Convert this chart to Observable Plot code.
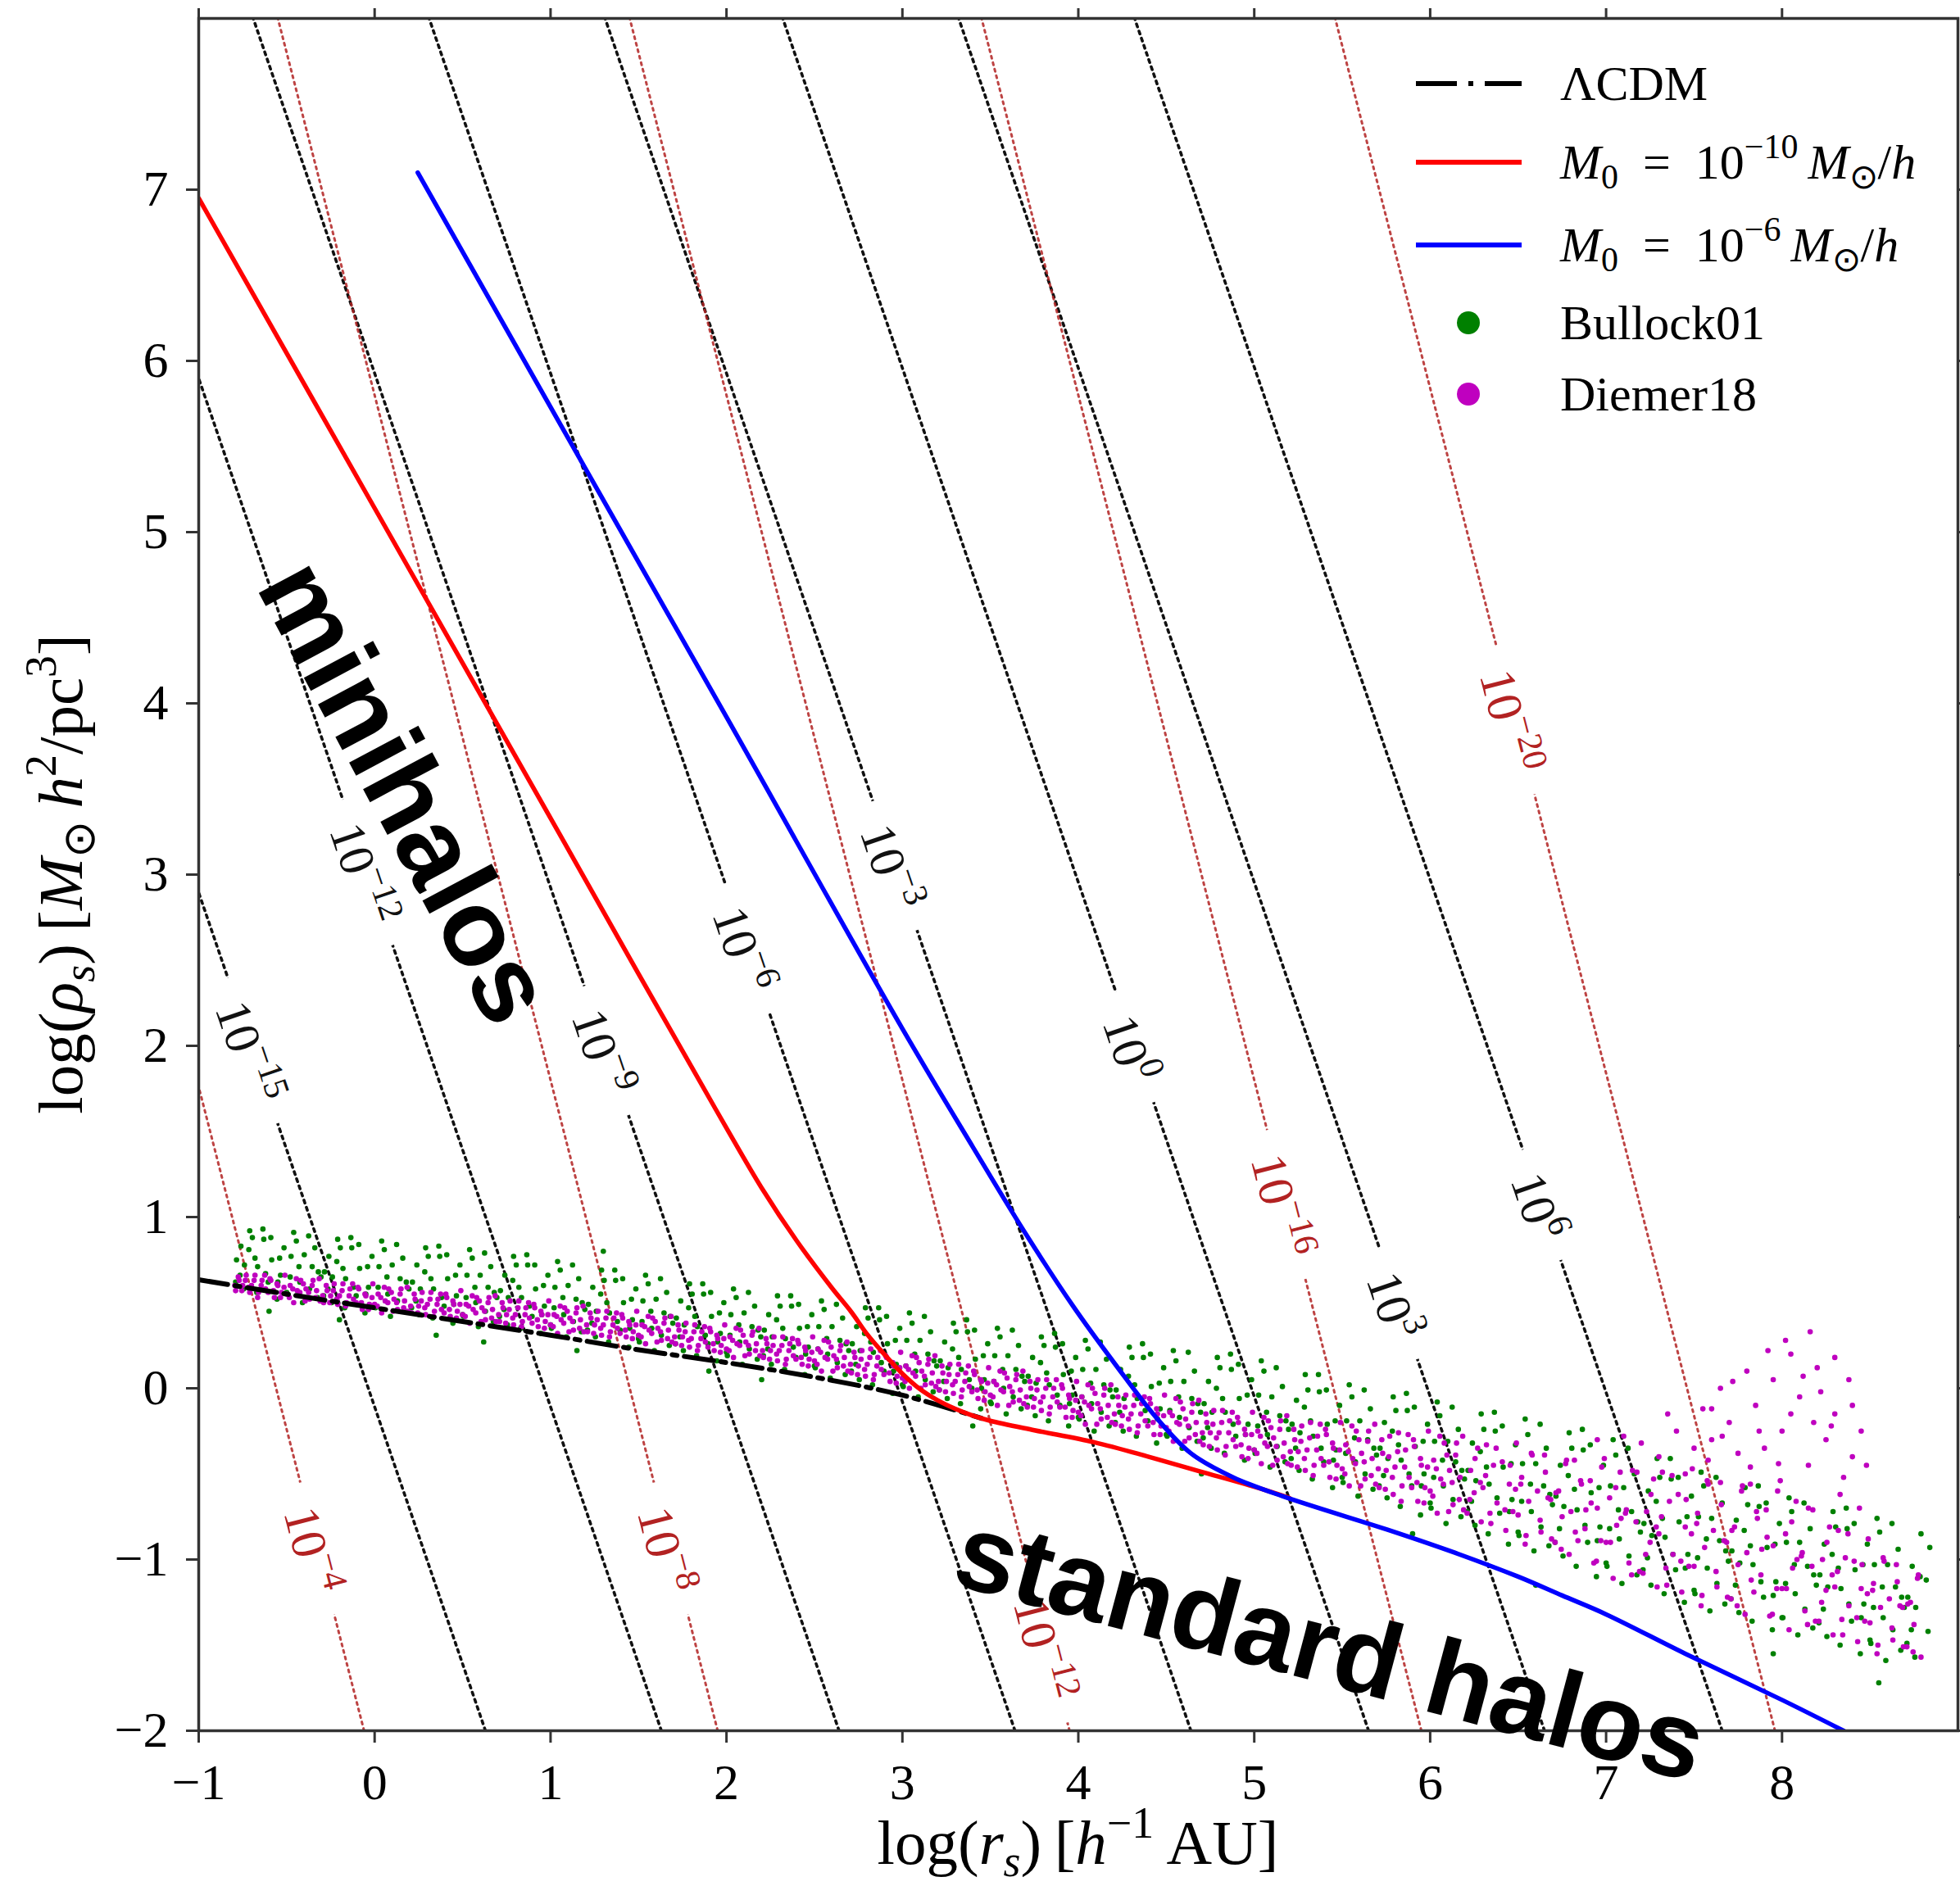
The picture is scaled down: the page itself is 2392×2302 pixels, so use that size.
<!DOCTYPE html>
<html><head><meta charset="utf-8">
<script src="https://cdn.jsdelivr.net/npm/d3@7"></script>
<script src="https://cdn.jsdelivr.net/npm/@observablehq/plot@0.6"></script>
<style>
html,body{margin:0;padding:0;background:#fff;}
#chart{width:2392px;height:2302px;overflow:hidden;}
</style></head><body><div id="chart"></div>
<script>
// ---------------- data ----------------
const X_DOMAIN = [-1, 9];
const Y_DOMAIN = [-2, 8];
const X_TICKS = [-1, 0, 1, 2, 3, 4, 5, 6, 7, 8];
const Y_TICKS = [-2, -1, 0, 1, 2, 3, 4, 5, 6, 7];

// iso-lines: x where each line crosses y = -2 (bottom) and y = 8 (top)
const LINE_Y_BOTTOM = -2, LINE_Y_TOP = 8;
const MASS_EXP = ["\u221215", "\u221212", "\u22129", "\u22126", "\u22123", "0", "3", "6"];
const MASS_X_BOTTOM = [0.63, 1.63, 2.64, 3.64, 4.64, 5.65, 6.65, 7.66];
const MASS_X_TOP = [-2.70, -1.70, -0.69, 0.31, 1.31, 2.32, 3.32, 4.32];
const MASS_LABEL_X = [-0.69, -0.04, 1.32, 2.12, 2.96, 4.32, 5.82, 6.64];
const MASS_LABEL_Y = [1.97, 3.01, 1.97, 2.57, 3.05, 1.99, 0.49, 1.07];

const RED_EXP = ["\u22124", "\u22128", "\u221212", "\u221216", "\u221220"];
const RED_X_BOTTOM = [-0.06, 1.95, 3.95, 5.95, 7.96];
const RED_X_TOP = [-2.56, -0.55, 1.45, 3.45, 5.46];
const RED_LABEL_X = [-0.33, 1.68, 3.83, 5.18, 6.48];
const RED_LABEL_Y = [-0.94, -0.94, -1.52, 1.07, 3.90];

// curves
const LCDM_X = [-1, -0.5, 0, 0.5, 1, 1.5, 2, 2.5, 3, 3.45];
const LCDM_Y = [0.634, 0.55, 0.47, 0.39, 0.31, 0.225, 0.15, 0.065, -0.04, -0.175];
const M10_X = [-1, 0, 1, 1.5, 1.8, 2.0, 2.2, 2.4, 2.6, 2.71, 2.8, 2.9, 3.0, 3.1, 3.2, 3.3, 3.4, 3.5, 3.75, 4.09, 4.4, 4.69, 5.0, 5.2];
const M10_Y = [6.95, 5.14, 3.33, 2.42, 1.88, 1.52, 1.17, 0.86, 0.585, 0.445, 0.315, 0.195, 0.085, -0.005, -0.07, -0.12, -0.16, -0.19, -0.245, -0.315, -0.40, -0.485, -0.575, -0.64];
const M6_X = [0.245, 1.0, 2.0, 3.0, 3.4, 3.69, 3.97, 4.21, 4.45, 4.64, 4.88, 5.16, 5.8, 6.14, 6.5, 6.75, 7.0, 7.45, 8.0, 8.35];
const M6_Y = [7.10, 5.73, 3.92, 2.10, 1.41, 0.92, 0.48, 0.14, -0.18, -0.38, -0.52, -0.63, -0.84, -0.96, -1.10, -1.21, -1.32, -1.55, -1.82, -2.0];

// scatter (pairs x,y)
const BULLOCK01 = [
-0.79,.62,-0.76,.83,-0.74,.72,-0.71,.92,-0.68,.76,-0.67,.56,-0.63,.87,-0.62,.67,-0.59,.88,-0.55,.62,-0.54,.76,-0.50,.56,
-0.48,.65,-0.46,.91,-0.43,.71,-0.41,.50,-0.40,.78,-0.37,.58,-0.34,.82,-0.32,.68,-0.29,.54,-0.26,.77,-0.24,.65,-0.21,.87,
-0.18,.70,-0.17,.47,-0.13,.82,-0.12,.59,-0.09,.84,-0.05,.55,-0.04,.71,0.00,.48,0.02,.59,0.04,.86,0.07,.65,0.09,.42,
0.10,.72,0.13,.51,0.16,.76,0.18,.62,0.21,.47,0.24,.72,0.26,.58,0.29,.82,0.32,.64,0.33,.41,0.37,.77,0.38,.53,
0.41,.78,0.45,.49,0.46,.66,0.50,.43,0.52,.53,0.54,.81,0.57,.59,0.59,.36,0.60,.66,0.63,.45,0.66,.71,0.68,.56,
0.71,.42,0.74,.66,0.76,.53,0.79,.77,0.82,.59,0.83,.35,0.87,.72,0.88,.48,0.91,.72,0.95,.43,0.96,.60,1.00,.37,
1.02,.47,1.04,.74,1.07,.53,1.09,.30,1.10,.60,1.13,.39,1.16,.64,1.18,.50,1.21,.34,1.24,.59,1.26,.45,1.29,.69,
1.32,.50,1.33,.27,1.37,.63,1.38,.39,1.41,.64,1.45,.35,1.46,.52,1.50,.29,1.52,.39,1.54,.66,1.57,.45,1.59,.22,
1.60,.52,1.63,.31,1.66,.56,1.68,.42,1.71,.26,1.74,.51,1.76,.37,1.79,.61,1.82,.42,1.83,.19,1.87,.55,1.88,.31,
1.91,.56,1.95,.27,1.96,.44,2.00,.21,2.02,.31,2.04,.58,2.07,.37,2.09,.14,2.10,.44,2.13,.23,2.16,.48,2.18,.34,
2.21,.19,2.24,.43,2.26,.30,2.29,.54,2.32,.35,2.33,.11,2.37,.48,2.38,.24,2.41,.49,2.45,.20,2.46,.36,2.50,.13,
2.52,.23,2.54,.51,2.57,.29,2.59,.06,2.60,.36,2.63,.15,2.66,.41,2.68,.26,2.71,.10,2.74,.36,2.76,.22,2.79,.47,
2.82,.27,2.83,.02,2.87,.40,2.88,.15,2.91,.42,2.95,.10,2.96,.28,3.00,.02,3.02,.13,3.04,.44,3.07,.20,3.09,-.05,
3.10,.28,3.13,.05,3.16,.33,3.18,.16,3.21,-.01,3.24,.27,3.26,.12,3.29,.38,3.32,.18,3.33,-.09,3.37,.33,3.38,.05,
3.41,.34,3.45,.00,3.46,.19,3.50,-.08,3.52,.04,3.54,.35,3.57,.11,3.59,-.15,3.60,.19,3.63,-.05,3.66,.25,3.68,.07,
3.71,-.10,3.74,.18,3.76,.03,3.79,.30,3.82,.09,3.83,-.19,3.87,.24,3.88,-.04,3.91,.26,3.95,-.09,3.96,.10,4.00,-.17,
4.02,-.05,4.04,.28,4.07,.03,4.09,-.25,4.10,.11,4.13,-.14,4.16,.17,4.18,-.01,4.21,-.20,4.24,.11,4.26,-.06,4.29,.24,
4.32,.02,4.33,-.28,4.37,.18,4.38,-.13,4.41,.20,4.45,-.18,4.46,.03,4.50,-.27,4.52,-.13,4.54,.22,4.57,-.05,4.59,-.35,
4.60,.04,4.63,-.23,4.66,.10,4.68,-.09,4.71,-.29,4.74,.04,4.76,-.14,4.79,.18,4.82,-.06,4.83,-.38,4.87,.11,4.88,-.21,
4.91,.14,4.95,-.27,4.96,-.04,5.00,-.36,5.02,-.22,5.04,.16,5.07,-.14,5.09,-.46,5.10,-.05,5.13,-.34,5.16,.01,5.18,-.19,
5.21,-.41,5.24,-.07,5.26,-.26,5.29,.08,5.32,-.19,5.33,-.53,5.37,-.02,5.38,-.35,5.41,-.01,5.45,-.42,5.46,-.19,5.50,-.52,
5.52,-.38,5.54,.02,5.57,-.29,5.59,-.63,5.60,-.19,5.63,-.50,5.66,-.12,5.68,-.35,5.71,-.57,5.74,-.20,5.76,-.41,5.79,-.05,
5.82,-.33,5.83,-.69,5.87,-.13,5.88,-.50,5.91,-.11,5.95,-.57,5.96,-.31,6.00,-.67,6.02,-.52,6.04,-.08,6.07,-.42,6.09,-.79,
6.10,-.31,6.13,-.65,6.16,-.24,6.18,-.48,6.21,-.72,6.24,-.32,6.26,-.54,6.29,-.15,6.32,-.46,6.33,-.85,6.37,-.25,6.38,-.64,
6.41,-.22,6.45,-.72,6.46,-.44,6.50,-.84,6.52,-.66,6.54,-.18,6.57,-.56,6.59,-.95,6.60,-.44,6.63,-.81,6.66,-.35,6.68,-.62,
6.71,-.90,6.74,-.45,6.76,-.69,6.79,-.26,6.82,-.59,6.83,-1.04,6.87,-.36,6.88,-.80,6.91,-.33,6.95,-.89,6.96,-.58,7.00,-1.02,
7.02,-.82,7.04,-.30,7.07,-.71,7.09,-1.14,7.10,-.58,7.13,-.98,7.16,-.50,7.18,-.78,7.21,-1.06,7.24,-.60,7.26,-.86,7.29,-.41,
7.32,-.76,7.33,-1.20,7.37,-.53,7.38,-.97,7.41,-.52,7.45,-1.05,7.46,-.75,7.50,-1.18,7.52,-.99,7.54,-.49,7.57,-.88,7.59,-1.30,
7.60,-.76,7.63,-1.14,7.66,-.67,7.68,-.95,7.71,-1.23,7.74,-.77,7.76,-1.02,7.79,-.58,7.82,-.92,7.83,-1.36,7.87,-.69,7.88,-1.13,
7.91,-.67,7.95,-1.21,7.96,-.91,8.00,-1.34,8.02,-1.14,8.04,-.64,8.07,-1.03,8.09,-1.44,8.10,-.90,8.13,-1.29,8.16,-.82,8.18,-1.09,
8.21,-1.37,8.24,-.91,8.26,-1.16,8.29,-.72,8.32,-1.05,8.33,-1.50,8.37,-.82,8.38,-1.26,8.41,-.79,8.45,-1.34,8.46,-1.03,8.50,-1.47,
8.52,-1.28,8.54,-.76,8.57,-1.16,8.59,-1.59,8.60,-1.03,8.63,-1.41,8.66,-.94,8.68,-1.22,8.71,-1.49,8.74,-1.04,8.76,-1.28,8.79,-.85,
8.82,-1.12,8.84,-.93,8.83,-1.42,0.35,.31,0.62,.27,1.15,.22,1.90,.10,4.70,-.50,5.90,-.85,6.60,-1.15,8.55,-1.72,7.95,-1.55,
-0.60,.45,-0.20,.40,1.30,.80,2.20,.05,3.40,-.22
];
const BULLOCK01_MORE = [
-0.785,.75,-0.765,.66,-0.745,.58,-0.715,.81,-0.695,.88,-0.665,.71,-0.635,.93,-0.605,.62,-0.585,.75,-0.555,.52,-0.535,.66,-0.515,.82,
-0.495,.55,-0.475,.77,-0.445,.86,-0.425,.62,-0.375,.89,-0.355,.71,-0.325,.53,-0.305,.65,-0.285,.68,-0.265,.58,-0.245,.50,-0.215,.74,
-0.195,.82,-0.165,.64,-0.135,.88,-0.105,.54,-0.085,.70,-0.055,.44,-0.035,.59,-0.015,.77,0.005,.47,0.025,.71,0.055,.81,0.075,.55,
0.125,.84,0.145,.64,0.175,.45,0.195,.58,0.215,.62,0.235,.51,0.255,.43,0.285,.68,0.305,.77,0.335,.58,0.365,.83,0.395,.48,
0.415,.64,0.445,.38,0.465,.54,0.485,.72,0.505,.42,0.525,.66,0.555,.76,0.575,.50,0.625,.79,0.645,.59,0.675,.39,0.695,.53,
0.715,.57,0.735,.46,0.755,.37,0.785,.63,0.805,.72,0.835,.53,0.865,.78,0.895,.42,0.915,.58,0.945,.32,0.965,.48,0.985,.66,
1.005,.35,1.025,.59,1.055,.69,1.075,.43,1.125,.72,1.145,.52,1.175,.33,1.195,.46,1.215,.49,1.235,.38,1.255,.30,1.285,.55,
1.305,.63,1.335,.44,1.365,.69,1.395,.34,1.415,.50,1.445,.24,1.465,.40,1.485,.58,1.505,.27,1.525,.51,1.555,.61,1.575,.35,
1.625,.64,1.645,.44,1.675,.25,1.695,.38,1.715,.41,1.735,.30,1.755,.22,1.785,.47,1.805,.55,1.835,.36,1.865,.61,1.895,.26,
1.915,.42,1.945,.16,1.965,.32,1.985,.50,2.005,.19,2.025,.43,2.055,.53,2.075,.27,2.125,.56,2.145,.36,2.175,.17,2.195,.30,
2.215,.34,2.235,.23,2.255,.14,2.285,.40,2.305,.48,2.335,.29,2.365,.54,2.395,.18,2.415,.35,2.445,.08,2.465,.24,2.485,.43,
2.505,.12,2.525,.36,2.555,.46,2.575,.20,2.625,.49,2.645,.28,2.675,.08,2.695,.22,2.715,.26,2.735,.14,2.755,.05,2.785,.32,
2.805,.41,2.835,.21,2.865,.47,2.895,.10,2.915,.26,2.945,-.03,2.965,.14,2.985,.35,3.005,.01,3.025,.28,3.055,.38,3.075,.10,
3.125,.42,3.145,.20,3.175,-.02,3.195,.13,3.215,.16,3.235,.04,3.255,-.06,3.285,.23,3.305,.33,3.335,.11,3.365,.40,3.395,.00,
3.415,.17,3.445,-.12,3.465,.05,3.485,.26,3.505,-.09,3.525,.19,3.555,.30,3.575,.00,3.625,.34,3.645,.11,3.675,-.12,3.695,.04,
3.715,.07,3.735,-.05,3.755,-.16,3.785,.15,3.805,.25,3.835,.02,3.865,.32,3.895,-.10,3.915,.08,3.945,-.22,3.965,-.04,3.985,.18,
4.005,-.18,4.025,.11,4.055,.23,4.075,-.09,4.125,.27,4.145,.02,4.175,-.22,4.195,-.05,4.215,-.01,4.235,-.14,4.255,-.25,4.285,.07,
4.305,.18,4.335,-.06,4.365,.26,4.395,-.19,4.415,.01,4.445,-.32,4.465,-.12,4.485,.12,4.505,-.28,4.525,.04,4.555,.16,4.575,-.17,
4.625,.21,4.645,-.06,4.675,-.31,4.695,-.14,4.715,-.09,4.735,-.23,4.755,-.35,4.785,.00,4.805,.12,4.835,-.14,4.865,.20,4.895,-.28,
4.915,-.06,4.945,-.42,4.965,-.21,4.985,.05,5.005,-.38,5.025,-.04,5.055,.10,5.075,-.27,5.125,.12,5.145,-.16,5.175,-.43,5.195,-.24,
5.215,-.21,5.235,-.35,5.255,-.48,5.285,-.11,5.305,-.01,5.335,-.28,5.365,.08,5.395,-.43,5.415,-.21,5.445,-.58,5.465,-.36,5.485,-.10,
5.505,-.55,5.525,-.19,5.555,-.05,5.575,-.43,5.625,-.01,5.645,-.30,5.675,-.59,5.695,-.39,5.715,-.35,5.735,-.51,5.755,-.64,5.785,-.25,
5.805,-.13,5.835,-.42,5.865,-.03,5.895,-.57,5.915,-.34,5.945,-.74,5.965,-.50,5.985,-.21,6.005,-.70,6.025,-.31,6.055,-.16,6.075,-.57,
6.125,-.11,6.145,-.43,6.175,-.75,6.195,-.53,6.215,-.48,6.235,-.66,6.255,-.80,6.285,-.37,6.305,-.24,6.335,-.56,6.365,-.14,6.395,-.73,
6.415,-.46,6.445,-.91,6.465,-.65,6.485,-.33,6.505,-.86,6.525,-.44,6.555,-.27,6.575,-.72,6.625,-.21,6.645,-.57,6.675,-.92,6.695,-.68,
6.715,-.63,6.735,-.82,6.755,-.98,6.785,-.51,6.805,-.35,6.835,-.71,6.865,-.24,6.895,-.90,6.915,-.61,6.945,-1.10,6.965,-.81,6.985,-.45,
7.005,-1.04,7.025,-.57,7.055,-.39,7.075,-.88,7.125,-.35,7.145,-.72,7.175,-1.09,7.195,-.84,7.215,-.79,7.235,-.99,7.255,-1.15,7.285,-.66,
7.305,-.52,7.335,-.87,7.365,-.41,7.395,-1.06,7.415,-.78,7.445,-1.25,7.465,-.97,7.485,-.63,7.505,-1.20,7.525,-.75,7.555,-.57,7.575,-1.05,
7.625,-.52,7.645,-.89,7.675,-1.26,7.695,-1.01,7.715,-.95,7.735,-1.15,7.755,-1.31,7.785,-.83,7.805,-.68,7.835,-1.03,7.865,-.57,7.895,-1.22,
7.915,-.93,7.945,-1.41,7.965,-1.13,7.985,-.79,8.005,-1.34,8.025,-.90,8.055,-.72,8.075,-1.20,8.125,-.67,8.145,-1.04,8.175,-1.40,8.195,-1.15,
8.215,-1.09,8.235,-1.29,8.255,-1.45,8.285,-.97,8.305,-.81,8.335,-1.17,8.365,-.70,8.395,-1.36,8.415,-1.06,8.445,-1.55,8.465,-1.26,8.485,-.91,
8.505,-1.49,8.525,-1.03,8.555,-.84,8.575,-1.34,8.625,-.79,8.645,-1.16,8.675,-1.53,8.695,-1.28,8.715,-1.22,8.735,-1.41,8.755,-1.57,8.785,-1.10
];
const DIEMER18 = [
-0.79,.57,-0.77,.63,-0.75,.60,-0.73,.66,-0.71,.56,-0.70,.60,-0.68,.66,-0.66,.56,-0.64,.63,-0.62,.58,
-0.59,.63,-0.57,.53,-0.55,.60,-0.53,.56,-0.51,.66,-0.50,.55,-0.48,.60,-0.46,.50,-0.44,.57,-0.42,.63,
-0.39,.58,-0.37,.52,-0.35,.63,-0.33,.57,-0.31,.51,-0.29,.50,-0.27,.57,-0.25,.54,-0.23,.61,-0.21,.49,
-0.20,.54,-0.18,.61,-0.16,.50,-0.14,.58,-0.12,.52,-0.09,.58,-0.07,.46,-0.05,.54,-0.03,.49,-0.01,.61,
0.00,.49,0.02,.55,0.04,.44,0.06,.51,0.08,.58,0.11,.52,0.13,.46,0.15,.58,0.17,.51,0.19,.45,
0.21,.44,0.23,.52,0.25,.48,0.27,.56,0.29,.43,0.30,.49,0.32,.56,0.34,.45,0.36,.52,0.38,.46,
0.41,.53,0.43,.42,0.45,.49,0.47,.45,0.49,.57,0.50,.43,0.52,.49,0.54,.38,0.56,.46,0.58,.53,
0.61,.47,0.63,.40,0.65,.53,0.67,.46,0.69,.39,0.71,.39,0.73,.47,0.75,.43,0.77,.51,0.79,.37,
0.80,.43,0.82,.51,0.84,.39,0.86,.47,0.88,.41,0.91,.47,0.93,.36,0.95,.43,0.97,.39,0.99,.51,
1.00,.37,1.02,.43,1.04,.32,1.06,.40,1.08,.47,1.11,.41,1.13,.34,1.15,.47,1.17,.40,1.19,.33,
1.21,.33,1.23,.41,1.25,.37,1.27,.45,1.29,.31,1.30,.37,1.32,.45,1.34,.33,1.36,.41,1.38,.35,
1.41,.41,1.43,.30,1.45,.37,1.47,.33,1.49,.45,1.50,.31,1.52,.37,1.54,.26,1.56,.34,1.58,.41,
1.61,.35,1.63,.28,1.65,.41,1.67,.34,1.69,.27,1.71,.26,1.73,.34,1.75,.30,1.77,.38,1.79,.24,
1.80,.29,1.82,.37,1.84,.25,1.86,.33,1.88,.27,1.91,.33,1.93,.22,1.95,.29,1.97,.25,1.99,.37,
2.00,.23,2.02,.30,2.04,.18,2.06,.26,2.08,.34,2.11,.27,2.13,.20,2.15,.33,2.17,.26,2.19,.19,
2.21,.18,2.23,.26,2.25,.22,2.27,.30,2.29,.16,2.30,.22,2.32,.30,2.34,.17,2.36,.26,2.38,.19,
2.41,.26,2.43,.14,2.45,.22,2.47,.17,2.49,.30,2.50,.16,2.52,.23,2.54,.10,2.56,.18,2.58,.27,
2.61,.19,2.63,.12,2.65,.25,2.67,.18,2.69,.10,2.71,.09,2.73,.18,2.75,.13,2.77,.22,2.79,.07,
2.80,.14,2.82,.23,2.84,.08,2.86,.18,2.88,.11,2.91,.18,2.93,.04,2.95,.13,2.97,.07,2.99,.21,
3.00,.06,3.02,.13,3.04,.00,3.06,.09,3.08,.18,3.11,.10,3.13,.02,3.15,.17,3.17,.09,3.19,.01,
3.21,-.01,3.23,.09,3.25,.04,3.27,.14,3.29,-.03,3.30,.04,3.32,.14,3.34,-.01,3.36,.09,3.38,.01,
3.41,.08,3.43,-.06,3.45,.04,3.47,-.02,3.49,.12,3.50,-.04,3.52,.04,3.54,-.10,3.56,-.01,3.58,.09,
3.61,.01,3.63,-.08,3.65,.08,3.67,-.01,3.69,-.09,3.71,-.11,3.73,.00,3.75,-.06,3.77,.05,3.79,-.13,
3.80,-.05,3.82,.05,3.84,-.11,3.86,.00,3.88,-.08,3.91,.00,3.93,-.17,3.95,-.06,3.97,-.13,3.99,.04,
4.00,-.14,4.02,-.05,4.04,-.21,4.06,-.10,4.08,.00,4.11,-.09,4.13,-.18,4.15,.00,4.17,-.10,4.19,-.20,
4.21,-.21,4.23,-.10,4.25,-.16,4.27,-.04,4.29,-.24,4.30,-.15,4.32,-.04,4.34,-.22,4.36,-.09,4.38,-.19,
4.41,-.09,4.43,-.27,4.45,-.15,4.47,-.22,4.49,-.04,4.50,-.23,4.52,-.14,4.54,-.31,4.56,-.20,4.58,-.08,
4.61,-.18,4.63,-.29,4.65,-.09,4.67,-.20,4.69,-.31,4.71,-.33,4.73,-.20,4.75,-.26,4.77,-.13,4.79,-.36,
4.80,-.26,4.82,-.13,4.84,-.34,4.86,-.19,4.88,-.30,4.91,-.20,4.93,-.40,4.95,-.27,4.97,-.35,4.99,-.14,
5.00,-.36,5.02,-.25,5.04,-.44,5.06,-.32,5.08,-.19,5.11,-.29,5.13,-.42,5.15,-.19,5.17,-.32,5.19,-.44,
5.21,-.45,5.23,-.30,5.25,-.37,5.27,-.22,5.29,-.48,5.30,-.36,5.32,-.20,5.34,-.45,5.36,-.28,5.38,-.41,
5.41,-.27,5.43,-.52,5.45,-.35,5.47,-.45,5.49,-.20,5.50,-.47,5.52,-.33,5.54,-.57,5.56,-.41,5.58,-.25,
5.61,-.38,5.63,-.53,5.65,-.25,5.67,-.41,5.69,-.56,5.71,-.58,5.73,-.38,5.75,-.48,5.77,-.28,5.79,-.62,
5.80,-.46,5.82,-.26,5.84,-.57,5.86,-.36,5.88,-.52,5.91,-.34,5.93,-.66,5.95,-.45,5.97,-.58,5.99,-.25,
6.00,-.60,6.02,-.42,6.04,-.73,6.06,-.53,6.08,-.32,6.11,-.48,6.13,-.68,6.15,-.32,6.17,-.52,6.19,-.71,
6.21,-.73,6.23,-.48,6.25,-.61,6.27,-.35,6.29,-.78,6.30,-.58,6.32,-.33,6.34,-.73,6.36,-.45,6.38,-.67,
6.41,-.43,6.43,-.83,6.45,-.56,6.47,-.72,6.49,-.32,6.50,-.74,6.52,-.52,6.54,-.91,6.56,-.66,6.58,-.39,
6.61,-.60,6.63,-.84,6.65,-.39,6.67,-.64,6.69,-.88,6.71,-.90,6.73,-.60,6.75,-.75,6.77,-.44,6.79,-.97,
6.80,-.72,6.82,-.42,6.84,-.89,6.86,-.56,6.88,-.82,6.91,-.54,6.93,-1.02,6.95,-.70,6.97,-.89,6.99,-.41,
7.00,-.90,7.02,-.64,7.04,-1.11,7.06,-.80,7.08,-.49,7.11,-.73,7.13,-1.02,7.15,-.48,7.17,-.78,7.19,-1.07,
7.21,-1.08,7.23,-.72,7.25,-.90,7.27,-.53,7.29,-1.16,7.30,-.85,7.32,-.49,7.34,-1.05,7.36,-.66,7.38,-.97,
7.41,-.62,7.43,-1.19,7.45,-.81,7.47,-1.04,7.49,-.47,7.50,-1.04,7.52,-.73,7.54,-1.27,7.56,-.93,7.58,-.56,
7.61,-.83,7.63,-1.16,7.65,-.55,7.67,-.89,7.69,-1.22,7.71,-1.23,7.73,-.81,7.75,-1.03,7.77,-.60,7.79,-1.32,
7.80,-.96,7.82,-.56,7.84,-1.19,7.86,-.76,7.88,-1.09,7.91,-.71,7.93,-1.33,7.95,-.92,7.97,-1.17,7.99,-.54,
8.00,-1.17,8.02,-.85,8.04,-1.41,8.06,-1.05,8.08,-.66,8.11,-.98,8.13,-1.30,8.15,-.70,8.17,-1.04,8.19,-1.36,
8.21,-1.36,8.23,-1.00,8.25,-1.18,8.27,-.81,8.29,-1.44,8.30,-1.16,8.32,-.83,8.34,-1.35,8.36,-.99,8.38,-1.27,
8.41,-1.01,8.43,-1.48,8.45,-1.17,8.47,-1.36,8.49,-.88,8.50,-1.37,8.52,-1.14,8.54,-1.55,8.56,-1.28,8.58,-1.01,
8.61,-1.23,8.63,-1.47,8.65,-1.03,8.67,-1.27,8.69,-1.51,8.71,-1.51,8.73,-1.25,8.75,-1.38,8.77,-1.11,8.79,-1.57,
8.16,.33,8.05,.20,8.20,.12,7.95,.05,8.10,-.05,7.85,-.10,8.30,-.15,7.70,-.20,8.00,-.25,8.25,-.30,7.60,-.30,7.50,-.35,
7.90,-.35,8.40,-.40,7.40,-.25,7.30,-.40,8.15,-.45,7.80,.10,8.40,-.10,8.45,-.25,7.65,.00,7.55,-.12,8.30,.18,8.22,-.02,
7.92,.22,7.75,-.38,8.35,-.52,7.45,-.50,7.35,-.15,8.05,-.15,8.48,-.45,7.20,-.32,7.98,-.44,8.12,.07,7.87,-.25,7.60,-.12,
8.02,.28,7.72,.04,8.28,-.22,7.10,-.28,6.95,-.30,8.38,.05,7.82,-.46,8.18,-.20,7.58,-.42,8.33,-.62,8.44,-.70,7.66,-.28
];
const DIEMER18_MORE = [
-0.795,.60,-0.775,.65,-0.755,.57,-0.735,.63,-0.715,.59,-0.685,.63,-0.665,.53,-0.645,.60,-0.625,.66,-0.605,.56,
-0.595,.64,-0.575,.57,-0.555,.61,-0.535,.53,-0.515,.59,-0.485,.53,-0.465,.58,-0.445,.64,-0.425,.56,-0.405,.61,
-0.395,.51,-0.375,.56,-0.355,.60,-0.335,.53,-0.315,.64,-0.295,.54,-0.275,.60,-0.255,.50,-0.235,.57,-0.215,.52,
-0.185,.57,-0.165,.48,-0.145,.54,-0.125,.61,-0.105,.50,-0.095,.59,-0.075,.50,-0.055,.55,-0.035,.46,-0.015,.53,
0.015,.48,0.035,.53,0.055,.59,0.075,.50,0.095,.56,0.105,.45,0.125,.50,0.145,.55,0.165,.47,0.185,.59,
0.205,.48,0.225,.55,0.245,.44,0.265,.51,0.285,.47,0.315,.52,0.335,.42,0.355,.49,0.375,.55,0.395,.44,
0.405,.55,0.425,.46,0.445,.51,0.465,.41,0.485,.49,0.515,.42,0.535,.48,0.555,.54,0.575,.44,0.595,.51,
0.605,.39,0.625,.45,0.645,.50,0.665,.41,0.685,.54,0.705,.43,0.725,.50,0.745,.38,0.765,.46,0.785,.41,
0.815,.47,0.835,.36,0.855,.43,0.875,.50,0.895,.38,0.905,.49,0.925,.40,0.945,.45,0.965,.35,0.985,.43,
1.015,.36,1.035,.42,1.055,.48,1.075,.38,1.095,.45,1.105,.33,1.125,.39,1.145,.44,1.165,.35,1.185,.48,
1.205,.37,1.225,.44,1.245,.32,1.265,.40,1.285,.35,1.315,.41,1.335,.30,1.355,.37,1.375,.44,1.395,.32,
1.405,.43,1.425,.34,1.445,.39,1.465,.29,1.485,.37,1.515,.30,1.535,.36,1.555,.42,1.575,.32,1.595,.39,
1.605,.27,1.625,.33,1.645,.38,1.665,.29,1.685,.42,1.705,.30,1.725,.37,1.745,.25,1.765,.33,1.785,.28,
1.815,.33,1.835,.22,1.855,.29,1.875,.36,1.895,.24,1.905,.35,1.925,.26,1.945,.31,1.965,.21,1.985,.29,
2.015,.22,2.035,.28,2.055,.35,2.075,.25,2.095,.31,2.105,.19,2.125,.25,2.145,.31,2.165,.22,2.185,.35,
2.205,.22,2.225,.29,2.245,.17,2.265,.25,2.285,.20,2.315,.25,2.335,.14,2.355,.22,2.375,.29,2.395,.17,
2.405,.28,2.425,.18,2.445,.24,2.465,.13,2.485,.21,2.515,.14,2.535,.21,2.555,.28,2.575,.17,2.595,.24,
2.605,.10,2.625,.17,2.645,.22,2.665,.13,2.685,.27,2.705,.14,2.725,.21,2.745,.08,2.765,.17,2.785,.11,
2.815,.18,2.835,.05,2.855,.13,2.875,.22,2.895,.08,2.905,.19,2.925,.09,2.945,.15,2.965,.03,2.985,.12,
3.015,.04,3.035,.11,3.055,.19,3.075,.07,3.095,.15,3.105,.00,3.125,.07,3.145,.14,3.165,.03,3.185,.19,
3.205,.04,3.225,.13,3.245,-.02,3.265,.08,3.285,.02,3.315,.08,3.335,-.05,3.355,.04,3.375,.13,3.395,-.02,
3.405,.10,3.425,-.01,3.445,.05,3.465,-.07,3.485,.03,3.515,-.05,3.535,.02,3.555,.10,3.575,-.02,3.595,.06,
3.605,-.10,3.625,-.02,3.645,.05,3.665,-.07,3.685,.10,3.705,-.05,3.725,.04,3.745,-.11,3.765,-.01,3.785,-.08,
3.815,.00,3.835,-.15,3.855,-.05,3.875,.05,3.895,-.11,3.905,.02,3.925,-.11,3.945,-.04,3.965,-.17,3.985,-.07,
4.015,-.16,4.035,-.08,4.055,.02,4.075,-.12,4.095,-.03,4.105,-.21,4.125,-.12,4.145,-.04,4.165,-.17,4.185,.02,
4.205,-.15,4.225,-.05,4.245,-.22,4.265,-.11,4.285,-.18,4.315,-.10,4.335,-.26,4.355,-.15,4.375,-.05,4.395,-.22,
4.405,-.06,4.425,-.20,4.445,-.12,4.465,-.27,4.485,-.16,4.515,-.25,4.535,-.16,4.555,-.06,4.575,-.21,4.595,-.12,
4.605,-.31,4.625,-.22,4.645,-.14,4.665,-.27,4.685,-.07,4.705,-.26,4.725,-.15,4.745,-.34,4.765,-.21,4.785,-.29,
4.815,-.20,4.835,-.39,4.855,-.26,4.875,-.14,4.895,-.34,4.905,-.17,4.925,-.33,4.945,-.24,4.965,-.41,4.985,-.27,
5.015,-.38,5.035,-.28,5.055,-.17,5.075,-.34,5.095,-.23,5.105,-.45,5.125,-.34,5.145,-.24,5.165,-.40,5.185,-.16,
5.205,-.37,5.225,-.24,5.245,-.46,5.265,-.31,5.285,-.41,5.315,-.29,5.335,-.51,5.355,-.36,5.375,-.21,5.395,-.45,
5.405,-.24,5.425,-.43,5.445,-.32,5.465,-.53,5.485,-.36,5.515,-.50,5.535,-.37,5.555,-.22,5.575,-.44,5.595,-.30,
5.605,-.57,5.625,-.43,5.645,-.31,5.665,-.51,5.685,-.21,5.705,-.47,5.725,-.30,5.745,-.59,5.765,-.40,5.785,-.52,
5.815,-.37,5.835,-.66,5.855,-.46,5.875,-.27,5.895,-.58,5.905,-.30,5.925,-.55,5.945,-.41,5.965,-.67,5.985,-.46,
6.015,-.63,6.035,-.47,6.055,-.28,6.075,-.56,6.095,-.39,6.105,-.72,6.125,-.55,6.145,-.39,6.165,-.65,6.185,-.28,
6.225,-.65,6.255,-.41,6.285,-.55,6.315,-.51,6.345,-.79,6.375,-.35,6.425,-.71,6.455,-.45,6.485,-.59,
6.515,-.56,6.545,-.86,6.575,-.38,6.625,-.77,6.655,-.49,6.685,-.65,6.715,-.61,6.745,-.94,6.775,-.42,
6.825,-.84,6.855,-.54,6.885,-.71,6.915,-.67,6.945,-1.01,6.975,-.46,7.025,-.90,7.055,-.58,7.085,-.76,
7.115,-.71,7.145,-1.09,7.175,-.49,7.225,-.97,7.255,-.62,7.285,-.81,7.315,-.75,7.345,-1.15,7.375,-.51,
7.425,-1.01,7.455,-.65,7.485,-.85,7.515,-.79,7.545,-1.21,7.575,-.54,7.625,-1.07,7.655,-.68,7.685,-.90,
7.715,-.83,7.745,-1.27,7.775,-.57,7.825,-1.12,7.855,-.72,7.885,-.94,7.915,-.87,7.945,-1.32,7.975,-.60,
8.025,-1.17,8.055,-.78,8.085,-1.00,8.115,-.96,8.145,-1.38,8.175,-.71,8.225,-1.25,8.255,-.90,8.285,-1.09,
8.315,-1.07,8.345,-1.44,8.375,-.85,8.425,-1.34,8.455,-1.03,8.485,-1.20,8.515,-1.18,8.545,-1.50,8.575,-.99,
8.625,-1.40,8.655,-1.13,8.685,-1.28,8.715,-1.26,8.745,-1.54,8.775,-1.09
];

const LEGEND_LABELS = ["\u039bCDM", "M0 = 10^-10 Msun/h", "M0 = 10^-6 Msun/h", "Bullock01", "Diemer18"];

// ---------------- build ----------------
const pairs = a => { const o = []; for (let i = 0; i < a.length; i += 2) o.push({x: a[i], y: a[i + 1]}); return o; };
const zip = (X, Y) => X.map((x, i) => ({x, y: Y[i]}));
const isoLines = (XB, XT) => XB.flatMap((xb, k) => [{x: xb, y: LINE_Y_BOTTOM, k}, {x: XT[k], y: LINE_Y_TOP, k}]);

const SERIF = "'Liberation Serif', 'Times New Roman', serif";
const TICK_FS = 62, CLABEL_FS = 61, LEGEND_FS = 60, AXIS_FS = 77, BIG_FS = 132;
const AXIS_COLOR = "#333";
const DOT_R = 3.3;

const plot = Plot.plot({
  width: 2392, height: 2302,
  marginLeft: 242, marginRight: 3, marginTop: 22, marginBottom: 190,
  x: {domain: X_DOMAIN},
  y: {domain: Y_DOMAIN},
  style: {fontFamily: SERIF, fontSize: TICK_FS + "px", background: "white", color: "black"},
  marks: [
    Plot.line(isoLines(MASS_X_BOTTOM, MASS_X_TOP), {x: "x", y: "y", z: "k", stroke: "#111", strokeWidth: 3.6, strokeDasharray: "3.6,5.6", clip: true}),
    Plot.line(isoLines(RED_X_BOTTOM, RED_X_TOP), {x: "x", y: "y", z: "k", stroke: "#b22222", strokeWidth: 3, strokeDasharray: "3,5.2", strokeOpacity: 0.85, clip: true}),
    Plot.dot(pairs(BULLOCK01.concat(BULLOCK01_MORE)), {x: "x", y: "y", r: DOT_R, fill: "#008000", clip: true}),
    Plot.dot(pairs(DIEMER18.concat(DIEMER18_MORE)), {x: "x", y: "y", r: DOT_R, fill: "#bf00bf", clip: true}),
    Plot.line(zip(LCDM_X, LCDM_Y), {x: "x", y: "y", stroke: "black", strokeWidth: 6, strokeDasharray: "36,9,6,9", curve: "catmull-rom", clip: true}),
    Plot.line(zip(M10_X, M10_Y), {x: "x", y: "y", stroke: "#ff0000", strokeWidth: 5.5, curve: "catmull-rom", clip: true}),
    Plot.line(zip(M6_X, M6_Y), {x: "x", y: "y", stroke: "#0000ff", strokeWidth: 5.5, curve: "catmull-rom", clip: true}),
    Plot.frame({stroke: AXIS_COLOR, strokeWidth: 3.5}),
    Plot.axisX({anchor: "bottom", ticks: X_TICKS, tickSize: 15, tickPadding: 24, label: null, stroke: AXIS_COLOR, strokeWidth: 3}),
    Plot.axisX({anchor: "top", ticks: X_TICKS, tickSize: 13, label: null, tickFormat: () => "", stroke: AXIS_COLOR, strokeWidth: 3}),
    Plot.axisY({anchor: "left", ticks: Y_TICKS, tickSize: 15, tickPadding: 22, label: null, stroke: AXIS_COLOR, strokeWidth: 3}),
    Plot.axisY({anchor: "right", ticks: Y_TICKS, tickSize: 13, label: null, tickFormat: () => "", stroke: AXIS_COLOR, strokeWidth: 3})
  ]
});
document.getElementById("chart").append(plot);

const sx = plot.scale("x"), sy = plot.scale("y");
const X = v => sx.apply(v), Y = v => sy.apply(v);

// rich text: parts [[string, style]] style in "", "i", "sub", "sup", "isub", "isup"
function richText(parent, parts, fs) {
  const t = parent.append("text").attr("font-size", fs).attr("font-family", SERIF);
  let shift = 0;
  for (const [s, st = ""] of parts) {
    const sub = st.includes("sub"), sup = st.includes("sup");
    const target = sub ? 0.2 * fs : sup ? -0.42 * fs : 0;
    const ts = t.append("tspan").text(s).attr("dy", target - shift);
    shift = target;
    if (sub || sup) ts.attr("font-size", 0.7 * fs);
    if (st.startsWith("i")) ts.attr("font-style", "italic");
  }
  return t;
}

// contour labels (inline, with a gap in the dotted line)
const firstDot = plot.querySelector('g[aria-label="dot"]');
const labelLayer = document.createElementNS("http://www.w3.org/2000/svg", "g");
plot.insertBefore(labelLayer, firstDot);
function clabel(x, y, xb, xt, exp, color) {
  const ang = Math.atan2(Y(LINE_Y_BOTTOM) - Y(LINE_Y_TOP), X(xb) - X(xt)) * 180 / Math.PI;
  const g = d3.select(labelLayer).append("g").attr("transform", `translate(${X(x)},${Y(y)}) rotate(${ang})`);
  const rect = g.append("rect").attr("fill", "white");
  const t = richText(g, [["10"], [exp, "sup"]], CLABEL_FS).attr("text-anchor", "middle").attr("y", 0.45 * CLABEL_FS).attr("fill", color);
  const w = t.node().getComputedTextLength();
  const pad = 30;
  rect.attr("x", -w / 2 - pad).attr("width", w + 2 * pad).attr("y", -10).attr("height", 20);
}
MASS_EXP.forEach((e, i) => clabel(MASS_LABEL_X[i], MASS_LABEL_Y[i], MASS_X_BOTTOM[i], MASS_X_TOP[i], e, "#111"));
RED_EXP.forEach((e, i) => clabel(RED_LABEL_X[i], RED_LABEL_Y[i], RED_X_BOTTOM[i], RED_X_TOP[i], e, "#b22222"));

const svg = d3.select(plot);

// axis titles
const xl = svg.append("g").attr("transform", `translate(${(X(X_DOMAIN[0]) + X(X_DOMAIN[1])) / 2},${Y(Y_DOMAIN[0]) + 163})`);
richText(xl, [["log("], ["r", "i"], ["s", "isub"], [")\u2009["], ["h", "i"], ["\u22121", "sup"], ["\u2009AU]"]], AXIS_FS).attr("text-anchor", "middle");
const yl = svg.append("g").attr("transform", `translate(${X(X_DOMAIN[0]) - 142},${(Y(Y_DOMAIN[0]) + Y(Y_DOMAIN[1])) / 2}) rotate(-90)`);
richText(yl, [["log("], ["\u03c1", "i"], ["s", "isub"], [")\u2009["], ["M", "i"], ["\u2299", "sub"], ["\u2009"], ["h", "i"], ["2", "sup"], ["/pc"], ["3", "sup"], ["]"]], AXIS_FS).attr("text-anchor", "middle");

// big annotations
function big(text, x, y, ang) {
  svg.append("text").attr("transform", `translate(${X(x)},${Y(y)}) rotate(${ang})`)
    .attr("text-anchor", "middle").attr("dy", "0.3em")
    .attr("font-family", "'Liberation Sans', Arial, sans-serif").attr("font-weight", "bold")
    .attr("font-size", BIG_FS).attr("fill", "black").text(text);
}
big("minihalos", 0.16, 3.47, 62);
big("standard halos", 5.43, -1.54, 15);

// legend
const lg = svg.append("g").attr("text-anchor", "start");
const LX0 = 1728, LX1 = 1857, LTX = 1904, LDX = 1792;
const ROWS = [102, 198, 299, 394, 481];
lg.append("line").attr("x1", LX0).attr("x2", LX1).attr("y1", ROWS[0]).attr("y2", ROWS[0]).attr("stroke", "black").attr("stroke-width", 6).attr("stroke-dasharray", "50,14,6,14");
lg.append("line").attr("x1", LX0).attr("x2", LX1).attr("y1", ROWS[1]).attr("y2", ROWS[1]).attr("stroke", "#ff0000").attr("stroke-width", 6);
lg.append("line").attr("x1", LX0).attr("x2", LX1).attr("y1", ROWS[2]).attr("y2", ROWS[2]).attr("stroke", "#0000ff").attr("stroke-width", 6);
lg.append("circle").attr("cx", LDX).attr("cy", ROWS[3]).attr("r", 14).attr("fill", "#008000");
lg.append("circle").attr("cx", LDX).attr("cy", ROWS[4]).attr("r", 14).attr("fill", "#bf00bf");
const base = r => ROWS[r] + 0.33 * LEGEND_FS;
const legendText = (parts, r) => richText(lg, parts, LEGEND_FS).attr("text-anchor", "start").attr("x", LTX).attr("y", base(r));
legendText([[LEGEND_LABELS[0]]], 0);
legendText([["M", "i"], ["0", "sub"], ["\u2002=\u200210"], ["\u221210", "sup"], ["\u2009"], ["M", "i"], ["\u2299", "sub"], ["/"], ["h", "i"]], 1);
legendText([["M", "i"], ["0", "sub"], ["\u2002=\u200210"], ["\u22126", "sup"], ["\u2009"], ["M", "i"], ["\u2299", "sub"], ["/"], ["h", "i"]], 2);
legendText([[LEGEND_LABELS[3]]], 3);
legendText([[LEGEND_LABELS[4]]], 4);
</script>
</body></html>
